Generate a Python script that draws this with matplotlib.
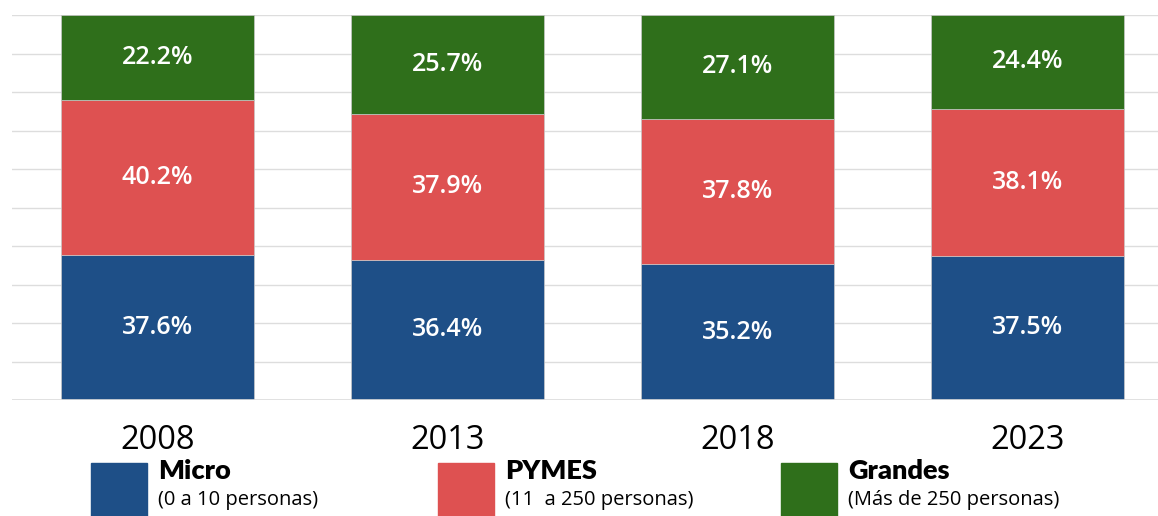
import numpy as np
from matplotlib import pyplot as plt
from matplotlib.patches import Rectangle

years = ["2008", "2013", "2018", "2023"]
micro = [37.6, 36.4, 35.2, 37.5]
pymes = [40.2, 37.9, 37.8, 38.1]
grandes = [22.2, 25.7, 27.1, 24.4]

series_names = ["Micro", "PYMES", "Grandes"]
series_notes = ["(0 a 10 personas)", "(11  a 250 personas)", "(Más de 250 personas)"]
colors = ["#1e4f87", "#de5151", "#2f6f1b"]


def main():
    plt.rcParams["font.family"] = ["Open Sans", "DejaVu Sans"]

    fig = plt.figure(figsize=(11.58, 5.16), dpi=100)
    ax = fig.add_axes([12 / 1158, 116 / 516, 1146 / 1158, 385 / 516])

    x = np.arange(len(years))
    bottom = np.zeros(len(years))
    for vals, col in zip([micro, pymes, grandes], colors):
        vals = np.array(vals)
        bars = ax.bar(x, vals, width=0.666, bottom=bottom, color=col,
                      edgecolor="#c8c8c8", linewidth=0.5, zorder=2)
        for b, v in zip(bars, vals):
            ax.text(b.get_x() + b.get_width() / 2, b.get_y() + v / 2,
                    f"{v:.1f}%", ha="center", va="center", color="white",
                    fontsize=18, fontweight="semibold", zorder=3)
        bottom += vals

    ax.set_xlim(-0.502, 3.45)
    ax.set_ylim(0, 100)
    ax.set_yticks(np.arange(0, 101, 10))
    ax.set_yticklabels([])
    ax.grid(axis="y", color="#dddddd", linewidth=1, zorder=0)
    ax.set_axisbelow(True)
    ax.set_xticks(x)
    ax.set_xticklabels(years, fontsize=23.5)
    ax.tick_params(length=0, pad=17)
    for s in ax.spines.values():
        s.set_visible(False)
    ax.axhline(0, color="#dddddd", linewidth=1.2, zorder=3)

    # legend at the bottom
    box_x = [91, 438, 781]
    for bx, name, note, col in zip(box_x, series_names, series_notes, colors):
        fig.patches.append(Rectangle((bx / 1158, -10 / 516), 56 / 1158, 63 / 516,
                                     transform=fig.transFigure, color=col))
        fig.text((bx + 67) / 1158, (516 - 471) / 516, name, fontsize=19.5,
                 fontweight="heavy", family=["Lato", "DejaVu Sans"],
                 va="center", ha="left")
        fig.text((bx + 67) / 1158, (516 - 500) / 516, note, fontsize=14.5,
                 va="center", ha="left")

    fig.savefig("out.png", dpi=100)


if __name__ == "__main__":
    main()
